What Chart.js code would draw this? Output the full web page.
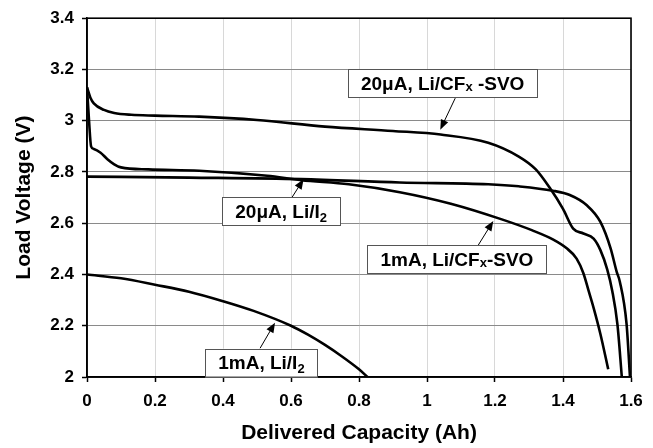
<!DOCTYPE html>
<html><head><meta charset="utf-8">
<script src="https://cdn.jsdelivr.net/npm/chart.js@4/dist/chart.umd.min.js"></script>
<style>html,body{margin:0;padding:0;background:#fff;}</style>
</head><body>
<canvas id="c" width="653" height="448" style="display:block;width:653px;height:448px"></canvas>
<script>
// ---- data ----
const xTicks = [0, 0.2, 0.4, 0.6, 0.8, 1, 1.2, 1.4, 1.6];
const yTicks = [2, 2.2, 2.4, 2.6, 2.8, 3, 3.2, 3.4];
const seriesNames = ['20\u03bcA, Li/CFx-SVO', '1mA, Li/CFx-SVO', '20\u03bcA, Li/I2', '1mA, Li/I2'];

const cfx20X = [0, 0.01, 0.02, 0.05, 0.08, 0.13, 0.2, 0.33, 0.5, 0.7, 0.9, 1.04, 1.18, 1.27, 1.32, 1.36, 1.40, 1.43, 1.46, 1.49, 1.51, 1.53, 1.545, 1.56, 1.573];
const cfx20Y = [3.13, 3.09, 3.068, 3.042, 3.03, 3.023, 3.02, 3.016, 3.003, 2.977, 2.96, 2.946, 2.914, 2.86, 2.81, 2.74, 2.656, 2.579, 2.56, 2.54, 2.495, 2.42, 2.335, 2.206, 2.0];

const cfx1mX = [0, 0.006, 0.012, 0.02, 0.04, 0.06, 0.08, 0.1, 0.18, 0.33, 0.53, 0.63, 0.77, 0.92, 1.07, 1.22, 1.31, 1.37, 1.41, 1.44, 1.46, 1.475, 1.49, 1.51, 1.533];
const cfx1mY = [3.13, 3.0, 2.9, 2.89, 2.875, 2.85, 2.83, 2.818, 2.81, 2.805, 2.785, 2.768, 2.752, 2.721, 2.676, 2.615, 2.572, 2.537, 2.503, 2.462, 2.405, 2.338, 2.27, 2.168, 2.03];

const li20X = [0, 0.3, 0.63, 0.92, 1.18, 1.27, 1.37, 1.42, 1.47, 1.51, 1.54, 1.558, 1.567, 1.587, 1.597];
const li20Y = [2.782, 2.778, 2.772, 2.759, 2.752, 2.744, 2.727, 2.71, 2.67, 2.605, 2.502, 2.41, 2.373, 2.206, 2.0];

const li1mX = [0, 0.1, 0.2, 0.3, 0.4, 0.49, 0.6, 0.65, 0.7, 0.75, 0.8, 0.825];
const li1mY = [2.4, 2.385, 2.36, 2.333, 2.296, 2.258, 2.2, 2.165, 2.125, 2.08, 2.03, 2.0];

// ---- annotations (text boxes + arrows, in data coordinates) ----
const notes = [
  {parts: [{t: '20\u03bcA, Li/CF'}, {t: 'x', small: true}, {t: ' -SVO'}], x: 1.046, y: 3.146, from: [1.083, 3.088], to: [1.039, 2.965]},
  {parts: [{t: '20\u03bcA, Li/I'}, {t: '2', sub: true}], x: 0.571, y: 2.647, from: [0.603, 2.701], to: [0.637, 2.772]},
  {parts: [{t: '1mA, Li/CF'}, {t: 'x', small: true}, {t: '-SVO'}], x: 1.088, y: 2.46, from: [1.151, 2.515], to: [1.195, 2.609]},
  {parts: [{t: '1mA, Li/I'}, {t: '2', sub: true}], x: 0.513, y: 2.056, from: [0.509, 2.112], to: [0.553, 2.212]}
];

const FONT = '"Liberation Sans", Arial, Helvetica, sans-serif';
const pts = (xs, ys) => xs.map((x, i) => ({x: x, y: ys[i]}));

const lineStyle = {showLine: true, pointRadius: 0, borderColor: '#000', backgroundColor: '#000', borderWidth: 2.6, cubicInterpolationMode: 'monotone', fill: false};

const annot = {
  id: 'annot',
  beforeDatasetsDraw(chart) {
    const {ctx, chartArea: a} = chart;
    ctx.save();
    ctx.strokeStyle = '#000';
    ctx.lineWidth = 1.6;
    ctx.strokeRect(a.left, a.top, a.right - a.left, a.bottom - a.top);
    ctx.restore();
  },
  afterDatasetsDraw(chart) {
    const {ctx, scales: {x, y}} = chart;
    const size = 19;
    ctx.save();
    notes.forEach(n => {
      // arrow
      const x0 = x.getPixelForValue(n.from[0]), y0 = y.getPixelForValue(n.from[1]);
      const x1 = x.getPixelForValue(n.to[0]), y1 = y.getPixelForValue(n.to[1]);
      const ang = Math.atan2(y1 - y0, x1 - x0);
      ctx.strokeStyle = '#000'; ctx.fillStyle = '#000'; ctx.lineWidth = 1;
      ctx.beginPath(); ctx.moveTo(x0, y0);
      ctx.lineTo(x1 - 6 * Math.cos(ang), y1 - 6 * Math.sin(ang)); ctx.stroke();
      ctx.beginPath();
      ctx.moveTo(x1, y1);
      ctx.lineTo(x1 - 10 * Math.cos(ang) + 4 * Math.sin(ang), y1 - 10 * Math.sin(ang) - 4 * Math.cos(ang));
      ctx.lineTo(x1 - 10 * Math.cos(ang) - 4 * Math.sin(ang), y1 - 10 * Math.sin(ang) + 4 * Math.cos(ang));
      ctx.closePath(); ctx.fill();
      // box
      let w = 0;
      n.parts.forEach(p => {
        const s = (p.small || p.sub) ? Math.round(size * 0.7) : size;
        ctx.font = 'bold ' + s + 'px ' + FONT;
        p.w = ctx.measureText(p.t).width; w += p.w;
      });
      const cx = x.getPixelForValue(n.x), cy = y.getPixelForValue(n.y);
      const bw = w + 26, bh = 28;
      ctx.fillStyle = '#fff';
      ctx.fillRect(cx - bw / 2, cy - bh / 2, bw, bh);
      ctx.strokeStyle = '#555'; ctx.lineWidth = 1;
      ctx.strokeRect(Math.round(cx - bw / 2) + 0.5, Math.round(cy - bh / 2) + 0.5, Math.round(bw), bh);
      ctx.fillStyle = '#000';
      ctx.textBaseline = 'alphabetic'; ctx.textAlign = 'left';
      let tx = cx - w / 2;
      const base = cy + size * 0.36;
      n.parts.forEach(p => {
        const s = (p.small || p.sub) ? Math.round(size * 0.7) : size;
        ctx.font = 'bold ' + s + 'px ' + FONT;
        const dy = p.sub ? 4 : (p.small ? 1 : 0);
        ctx.fillText(p.t, tx, base + dy);
        tx += p.w;
      });
    });
    ctx.restore();
  }
};

const fmt = v => String(Math.round(v * 10) / 10);

new Chart(document.getElementById('c'), {
  type: 'scatter',
  data: {
    datasets: [
      Object.assign({label: seriesNames[0], data: pts(cfx20X, cfx20Y)}, lineStyle),
      Object.assign({label: seriesNames[1], data: pts(cfx1mX, cfx1mY)}, lineStyle),
      Object.assign({label: seriesNames[2], data: pts(li20X, li20Y)}, lineStyle),
      Object.assign({label: seriesNames[3], data: pts(li1mX, li1mY)}, lineStyle)
    ]
  },
  options: {
    responsive: false,
    animation: false,
    devicePixelRatio: 1,
    layout: {padding: {left: 0, right: 22, top: 14, bottom: 0}},
    plugins: {legend: {display: false}, tooltip: {enabled: false}},
    scales: {
      x: {
        type: 'linear', min: 0, max: 1.6,
        afterBuildTicks: s => { s.ticks = xTicks.map(v => ({value: v})); },
        afterFit: s => { s.height = 71; },
        ticks: {color: '#000', font: {family: FONT, size: 17, weight: 'bold'}, padding: 9, maxRotation: 0, autoSkip: false, callback: fmt},
        grid: {color: '#d8d8d8', lineWidth: 1, tickLength: 5, tickColor: '#000', tickWidth: 1.5},
        border: {color: '#000', width: 1.6},
        title: {display: true, text: 'Delivered Capacity (Ah)', color: '#000', font: {family: FONT, size: 21, weight: 'bold'}, padding: {top: 0, bottom: 2}}
      },
      y: {
        type: 'linear', min: 2, max: 3.4,
        afterBuildTicks: s => { s.ticks = yTicks.map(v => ({value: v})); },
        afterFit: s => { s.width = 87; },
        ticks: {color: '#000', font: {family: FONT, size: 17, weight: 'bold'}, padding: 8, autoSkip: false, callback: fmt},
        grid: {color: '#8a8a8a', lineWidth: 1, tickLength: 5, tickColor: '#000', tickWidth: 1.5},
        border: {color: '#000', width: 1.6},
        title: {display: true, text: 'Load Voltage (V)', color: '#000', font: {family: FONT, size: 21, weight: 'bold'}, padding: {top: 12, bottom: 0}}
      }
    }
  },
  plugins: [annot]
});
</script>
</body></html>
